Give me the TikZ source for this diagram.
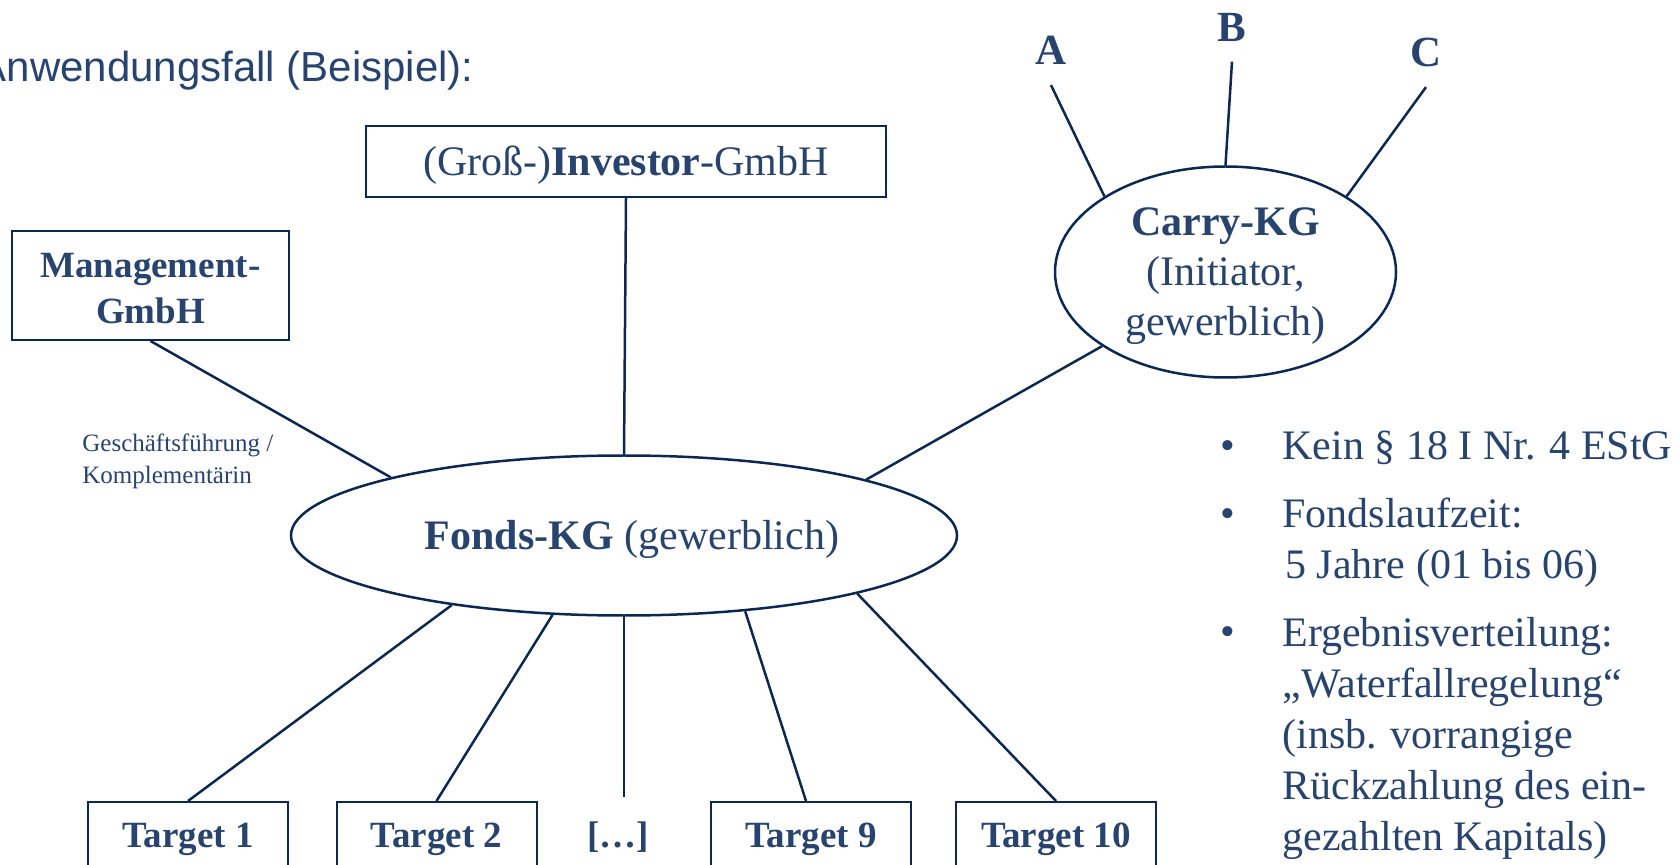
\documentclass[tikz,border=0pt]{standalone}
\usepackage{fontspec}
\setmainfont{Liberation Serif}
\newfontfamily\headfont{Liberation Sans}
\usetikzlibrary{shapes.geometric}
\definecolor{txt}{RGB}{40,68,110}
\definecolor{ln}{RGB}{12,40,80}
\tikzset{
  box/.style={draw=ln, line width=1pt, text=txt, inner sep=0pt},
  ell/.style={ellipse, draw=ln, line width=1.25pt, text=txt, inner sep=0pt},
  conn/.style={draw=ln, line width=1.25pt},
  capc/.style={text height=#1, text depth=0pt},
  tgt/.style={box, minimum width=100pt, minimum height=33pt, capc=12.25pt, font=\bfseries\fontsize{18.5}{22}\selectfont},
  letter/.style={text=txt, capc=14.2pt, inner sep=10pt, font=\bfseries\fontsize{21.5}{25}\selectfont},
  bul/.style={text=txt, anchor=base, inner sep=0pt, font=\fontsize{21}{25}\selectfont},
  item/.style={text=txt, anchor=base west, align=left, inner sep=0pt},
}
\begin{document}
\begin{tikzpicture}[x=0.5pt,y=-0.5pt]
\useasboundingbox (0,0) rectangle (1680,865);

% heading
\node[anchor=base east, inner sep=0pt, text=txt, font=\headfont\fontsize{21}{26}\selectfont] (title) at (474,82) {Anwendungsfall (Beispiel):};

% main nodes
\node[box, minimum width=260pt, minimum height=35.5pt, capc=13.9pt, font=\fontsize{21}{25}\selectfont] (inv) at (626,161.5) {(Groß-)\textbf{Investor}-GmbH};
\node[box, minimum width=138.5pt, minimum height=54.5pt, align=center, font=\bfseries\fontsize{18.5}{23}\selectfont] (mgmt) at (150.5,285.5) {\rule{0pt}{15.3pt}Management-\\GmbH};
\node[ell, minimum width=170.5pt, minimum height=105.5pt, align=center, font=\fontsize{21}{25}\selectfont] (carry) at (1225.5,272) {\rule{0pt}{18.5pt}\textbf{Carry-KG}\\(Initiator,\\gewerblich)};
\node[ell, minimum width=333pt, minimum height=80pt, capc=13.9pt, font=\fontsize{21}{25}\selectfont] (fonds) at (624,535.5) {\hspace{8pt}\textbf{Fonds-KG} (gewerblich)};

% A, B, C
\node[letter] (A) at (1051,50.5) {A};
\node[letter] (B) at (1232,27) {B};
\node[letter] (C) at (1426,52.5) {C};

% targets
\node[tgt] (t1) at (188,835) {Target 1};
\node[tgt] (t2) at (436.5,835) {Target 2};
\node[tgt, draw=none] (dots) at (618,835) {[…]};
\node[tgt] (t9) at (811,835) {Target 9};
\node[tgt] (t10) at (1056,835) {Target 10};

% label
\node[anchor=north west, align=left, text=txt, inner sep=0pt, font=\fontsize{12.5}{16}\selectfont] (gf) at (82,433) {Geschäftsführung /\\Komplementärin};

% connectors
\draw[conn] (inv.south) -- (fonds.north);
\draw[conn] (mgmt.south) -- (fonds.166.5);
\draw[conn] (carry.211.2) -- (fonds.13.5);
\draw[conn] (A.south) -- (carry.148.3);
\draw[conn] (B.south) -- (carry.north);
\draw[conn] (C.south) -- (carry.32.1);
\draw[conn] (fonds.202.4) -- (t1.north);
\draw[conn] (fonds.228.2) -- (t2.north);
\draw[conn] (fonds.south) -- ([yshift=2pt]fonds.south |- dots.north);
\draw[conn] (fonds.328.75) -- ([xshift=-2.5pt]t9.north);
\draw[conn] (fonds.346.6) -- (t10.north);

% bullet list
\node[bul] (b1) at (1228,460) {\textbullet};
\node[bul] (b2) at (1228,528) {\textbullet};
\node[bul] (b3) at (1228,645) {\textbullet};
\node[item, font=\fontsize{21}{25}\selectfont] (i1) at (1282,460) {Kein § 18 I Nr. 4 EStG};
\node[item, font=\fontsize{21}{25}\selectfont] (i2) at (1282,578) {Fondslaufzeit:\\\hspace{1.5pt}5 Jahre (01 bis 06)};
\node[item, font=\fontsize{21}{25.5}\selectfont] (i3) at (1282,850) {Ergebnisverteilung:\\„Waterfallregelung“\\(insb. vorrangige\\Rückzahlung des ein-\\gezahlten Kapitals)};
\end{tikzpicture}
\end{document}
